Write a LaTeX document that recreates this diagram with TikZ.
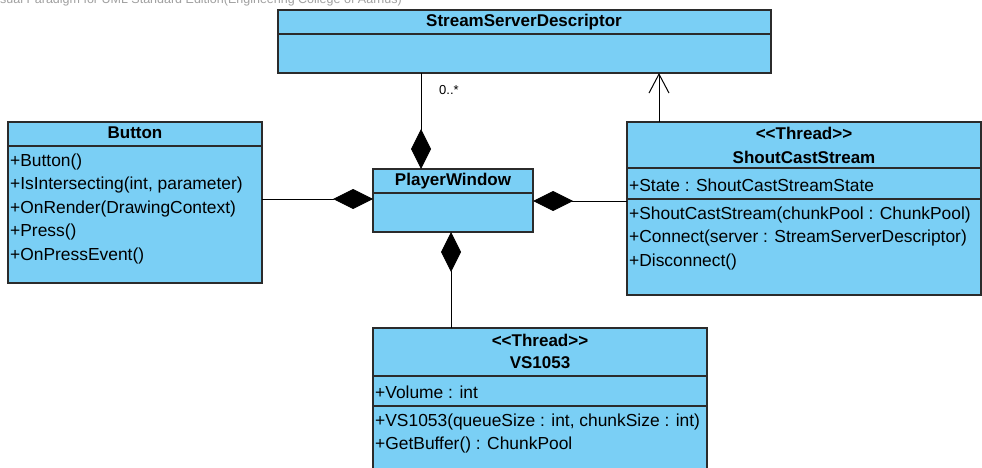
\documentclass[tikz,border=0pt]{standalone}
\usepackage{fontspec}
\setmainfont[Ligatures=NoCommon]{Liberation Sans}
\usetikzlibrary{arrows.meta}
\definecolor{vpblue}{HTML}{7ACFF5}
\definecolor{vpline}{HTML}{2B2B2B}
\definecolor{wmgray}{HTML}{A0A0A0}
\begin{document}
\begin{tikzpicture}[x=1pt,y=-1pt,
 classbox/.style={draw=vpline, fill=vpblue, line width=1.3pt, rectangle, anchor=north west, inner sep=0pt, outer sep=0pt},
 sep/.style={draw=vpline, line width=1.3pt},
 title/.style={font=\fontsize{17}{20}\selectfont\bfseries, inner sep=0pt, anchor=center},
 member/.style={font=\fontsize{17.4}{20}\selectfont, inner sep=0pt, anchor=west},
 conn/.style={draw=black, line width=1pt},
 compo/.style={conn, -{Diamond[length=40pt,width=20pt,fill=black]}},
 openarr/.style={conn, -{Straight Barb[length=19pt,width=20pt]}}
]
\useasboundingbox (0,0) rectangle (982,468);
\fill[white] (0,0) rectangle (982,468);
% watermark
\node[font=\fontsize{12.5}{14}\selectfont, text=wmgray, inner sep=0pt, anchor=base west] (wm) at (0,3.5) {sual Paradigm for UML Standard Edition(Engineering College of Aarhus)};

% StreamServerDescriptor
\node[classbox, minimum width=493pt, minimum height=63pt] (ssd) at (278,10) {};
\draw[sep] ([yshift=-24pt]ssd.north west) -- ([yshift=-24pt]ssd.north east);
\node[title] (ssdt) at (524,22) {StreamServerDescriptor};

% Button
\node[classbox, minimum width=254pt, minimum height=161pt] (button) at (8,122) {};
\draw[sep] ([yshift=-24pt]button.north west) -- ([yshift=-24pt]button.north east);
\node[title] (buttont) at (135,133) {Button};
\node[member] (b1) at (10,162) {+Button()};
\node[member] (b2) at (10,185) {+IsIntersecting(int, parameter)};
\node[member] (b3) at (10,209) {+OnRender(DrawingContext)};
\node[member] (b4) at (10,232) {+Press()};
\node[member] (b5) at (10,256) {+OnPressEvent()};

% PlayerWindow
\node[classbox, minimum width=160pt, minimum height=63pt] (pw) at (373,169) {};
\draw[sep] ([yshift=-24pt]pw.north west) -- ([yshift=-24pt]pw.north east);
\node[title] (pwt) at (453,181) {PlayerWindow};

% ShoutCastStream
\node[classbox, minimum width=354pt, minimum height=173pt] (scs) at (627,122) {};
\draw[sep] ([yshift=-46pt]scs.north west) -- ([yshift=-46pt]scs.north east);
\draw[sep] ([yshift=-77pt]scs.north west) -- ([yshift=-77pt]scs.north east);
\node[title] (scss) at (804,133) {{<}{<}Thread{>}{>}};
\node[title] (scst) at (804,157) {ShoutCastStream};
\node[member] (s1) at (629,185) {+State : ShoutCastStreamState};
\node[member] (s2) at (629,215) {+ShoutCastStream(chunkPool : ChunkPool)};
\node[member] (s3) at (629,238) {+Connect(server : StreamServerDescriptor)};
\node[member] (s4) at (629,262) {+Disconnect()};

% VS1053
\node[classbox, minimum width=334pt, minimum height=160pt] (vs) at (373,328) {};
\draw[sep] ([yshift=-48pt]vs.north west) -- ([yshift=-48pt]vs.north east);
\draw[sep] ([yshift=-78pt]vs.north west) -- ([yshift=-78pt]vs.north east);
\node[title] (vss) at (540,340) {{<}{<}Thread{>}{>}};
\node[title] (vst) at (540,363) {VS1053};
\node[member] (v1) at (375,392) {+Volume : int};
\node[member] (v2) at (375,422) {+VS1053(queueSize : int, chunkSize : int)};
\node[member] (v3) at (375,445) {+GetBuffer() : ChunkPool};

% connectors
\coordinate (xa) at (421,0);
\coordinate (xb) at (659,0);
\coordinate (xc) at (451,0);
\coordinate (ya) at (0,199);
\coordinate (yb) at (0,201);
\draw[compo] (ssd.south -| xa) -- (pw.north -| xa);
\draw[openarr] (scs.north -| xb) -- (ssd.south -| xb);
\draw[compo] (button.east |- ya) -- (pw.west |- ya);
\draw[compo] (scs.west |- yb) -- (pw.east |- yb);
\draw[compo] (vs.north -| xc) -- (pw.south -| xc);
\node[font=\fontsize{13}{15}\selectfont, inner sep=0pt] (mult) at (449,90) {0..*};
\end{tikzpicture}
\end{document}
